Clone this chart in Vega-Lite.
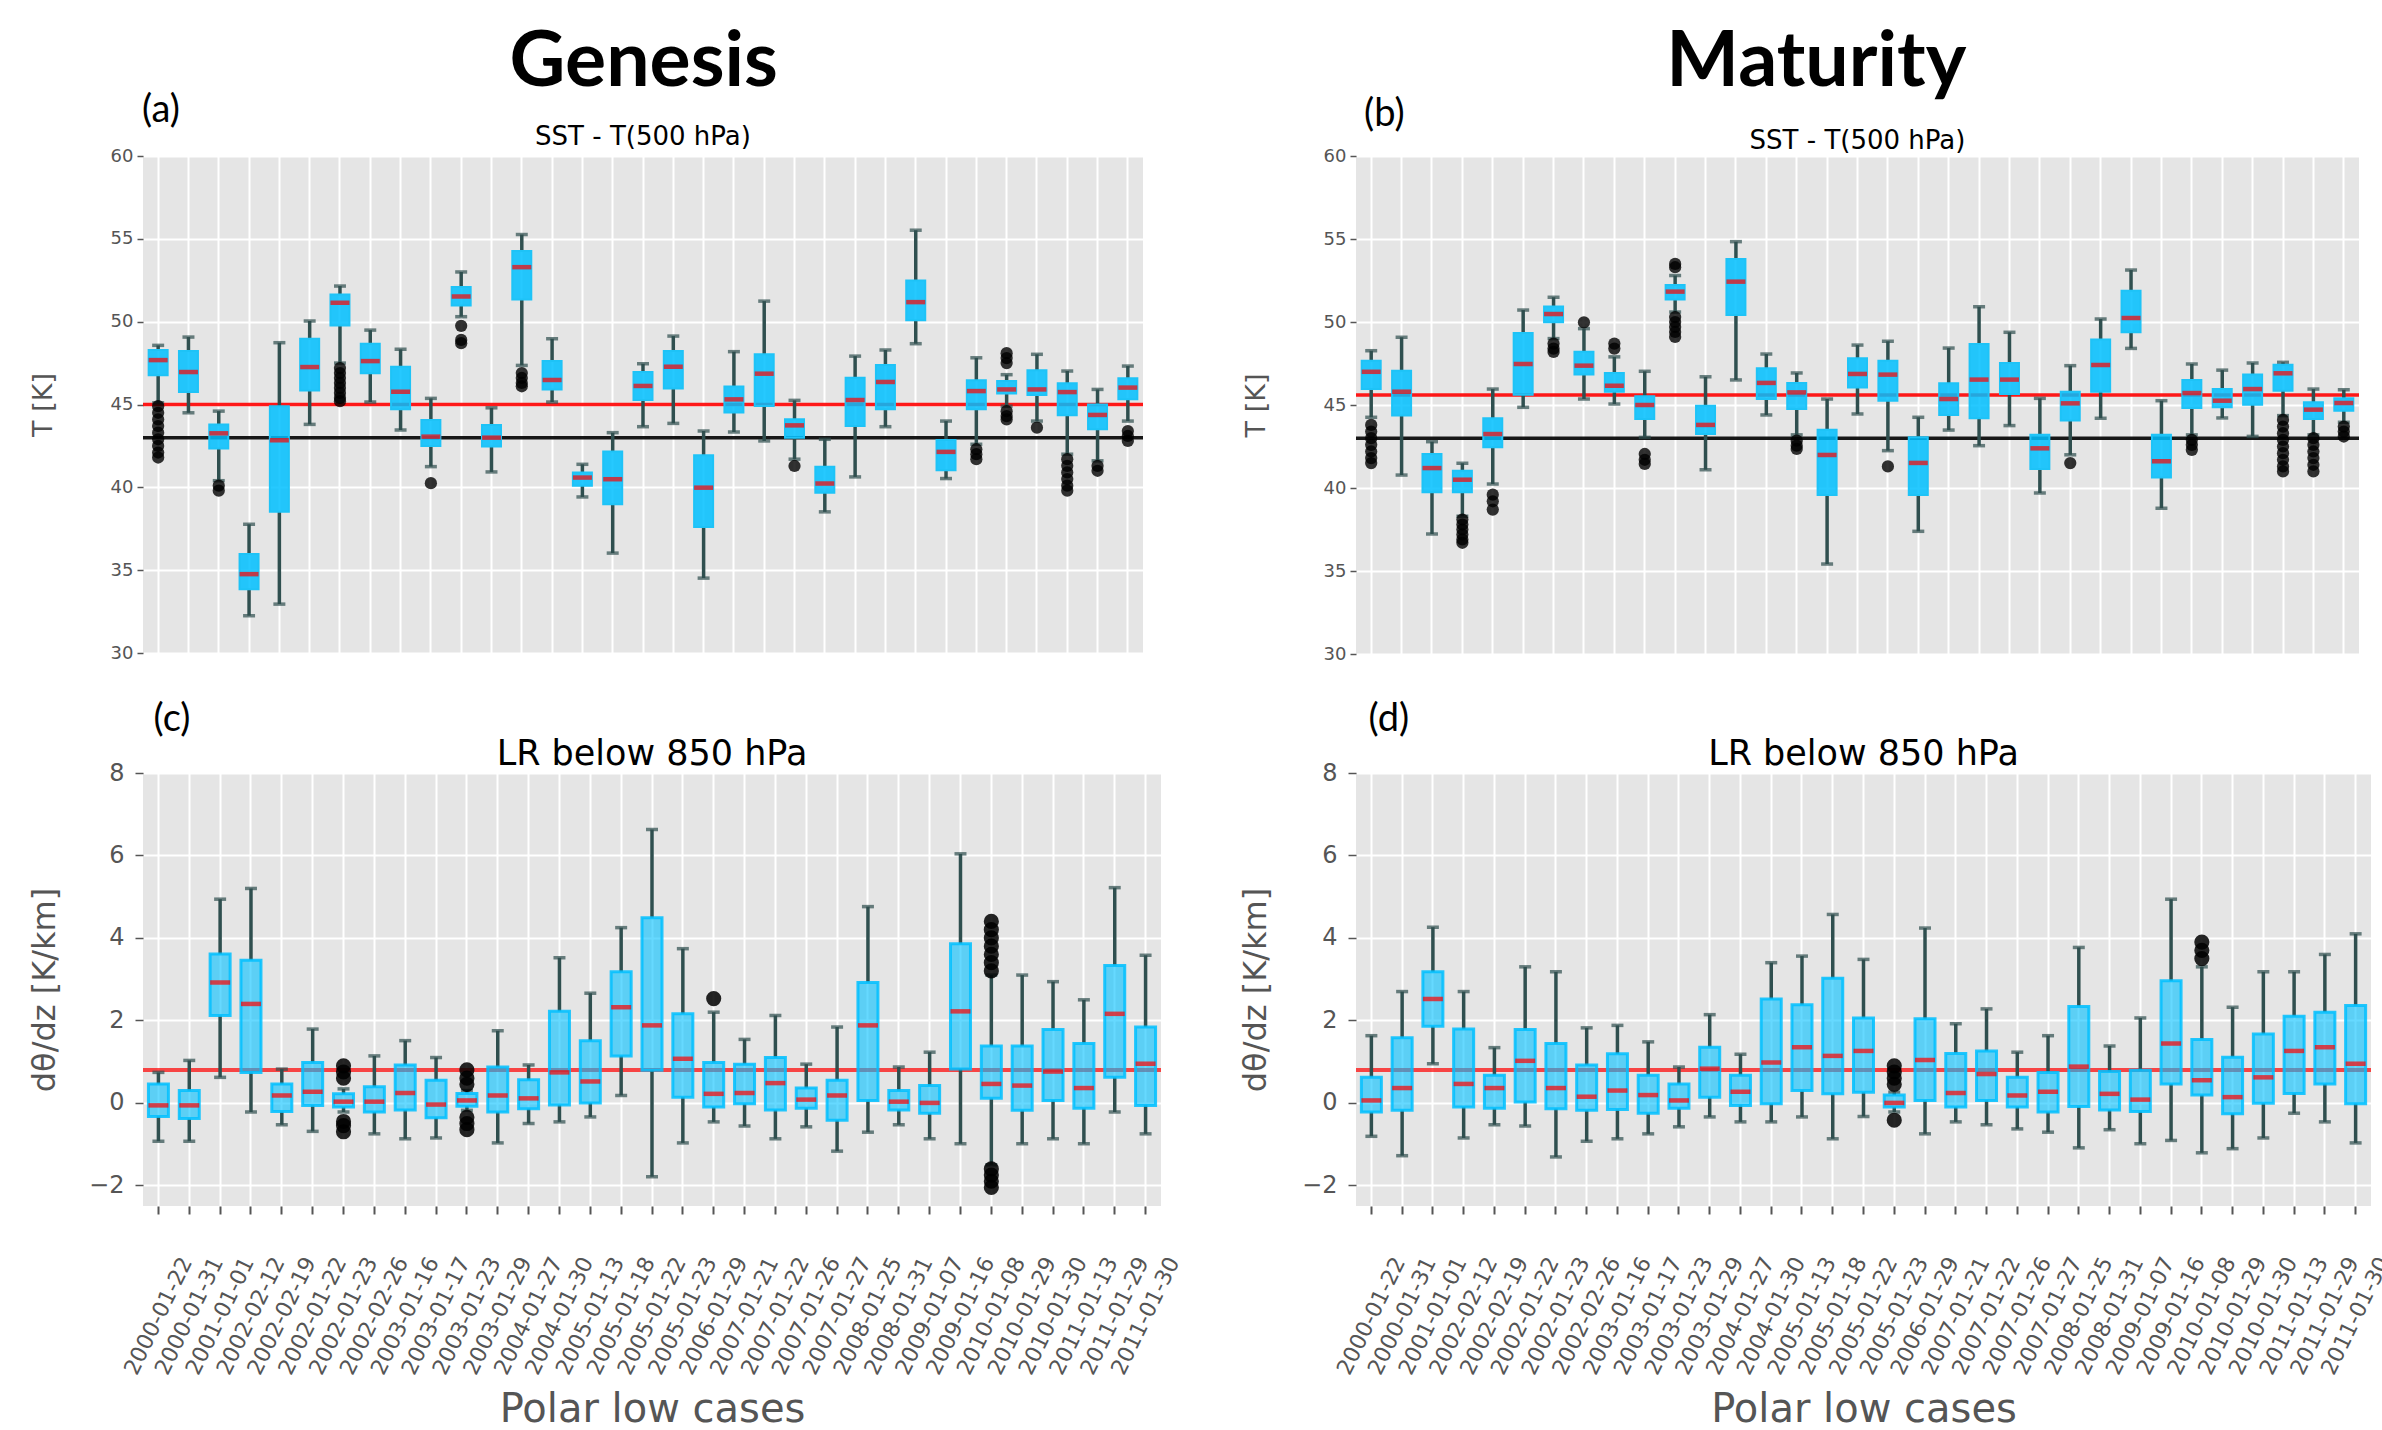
{
"$schema":"https://vega.github.io/schema/vega-lite/v6.json",
"background":"white",
"padding":{"left":28,"top":24,"right":0,"bottom":0},
"datasets":{
"refs":[
{"p":"a","k":"m","v":45.0},{"p":"a","k":"c","v":43.0},
{"p":"b","k":"m","v":45.6},{"p":"b","k":"c","v":43.0},
{"p":"c","k":"m","v":0.8},{"p":"d","k":"m","v":0.8}
],
"boxes":[
{"p":"a","c":"2000-01-22","lo":45.1,"q1":46.76,"md":47.68,"q3":48.29,"hi":48.57},
{"p":"a","c":"2000-01-31","lo":44.5,"q1":45.75,"md":46.96,"q3":48.23,"hi":49.07},
{"p":"a","c":"2001-01-01","lo":40.4,"q1":42.34,"md":43.26,"q3":43.8,"hi":44.6},
{"p":"a","c":"2002-02-12","lo":32.25,"q1":33.85,"md":34.76,"q3":35.97,"hi":37.77},
{"p":"a","c":"2002-02-19","lo":32.95,"q1":38.52,"md":42.84,"q3":44.9,"hi":48.73},
{"p":"a","c":"2002-01-22","lo":43.8,"q1":45.85,"md":47.26,"q3":48.97,"hi":50.04},
{"p":"a","c":"2002-01-23","lo":47.5,"q1":49.77,"md":51.14,"q3":51.64,"hi":52.15},
{"p":"a","c":"2002-02-26","lo":45.15,"q1":46.88,"md":47.62,"q3":48.67,"hi":49.49},
{"p":"a","c":"2003-01-16","lo":43.46,"q1":44.71,"md":45.77,"q3":47.28,"hi":48.33},
{"p":"a","c":"2003-01-17","lo":41.25,"q1":42.5,"md":43.06,"q3":44.07,"hi":45.37},
{"p":"a","c":"2003-01-23","lo":50.3,"q1":50.98,"md":51.52,"q3":52.09,"hi":53.0},
{"p":"a","c":"2003-01-29","lo":40.93,"q1":42.46,"md":43.0,"q3":43.76,"hi":44.8},
{"p":"a","c":"2004-01-27","lo":47.36,"q1":51.34,"md":53.29,"q3":54.26,"hi":55.26},
{"p":"a","c":"2004-01-30","lo":45.15,"q1":45.91,"md":46.48,"q3":47.62,"hi":48.97},
{"p":"a","c":"2005-01-13","lo":39.42,"q1":40.09,"md":40.59,"q3":40.89,"hi":41.39},
{"p":"a","c":"2005-01-18","lo":36.03,"q1":38.98,"md":40.49,"q3":42.16,"hi":43.3},
{"p":"a","c":"2005-01-22","lo":43.66,"q1":45.27,"md":46.12,"q3":46.96,"hi":47.46},
{"p":"a","c":"2005-01-23","lo":43.86,"q1":45.97,"md":47.28,"q3":48.23,"hi":49.13},
{"p":"a","c":"2006-01-29","lo":34.52,"q1":37.61,"md":39.98,"q3":41.93,"hi":43.4},
{"p":"a","c":"2007-01-21","lo":43.34,"q1":44.51,"md":45.31,"q3":46.08,"hi":48.19},
{"p":"a","c":"2007-01-22","lo":42.8,"q1":44.91,"md":46.86,"q3":48.03,"hi":51.24},
{"p":"a","c":"2007-01-26","lo":41.7,"q1":43.0,"md":43.74,"q3":44.11,"hi":45.25},
{"p":"a","c":"2007-01-27","lo":38.52,"q1":39.68,"md":40.23,"q3":41.25,"hi":42.9},
{"p":"a","c":"2008-01-25","lo":40.63,"q1":43.7,"md":45.27,"q3":46.62,"hi":47.92},
{"p":"a","c":"2008-01-31","lo":43.66,"q1":44.71,"md":46.36,"q3":47.38,"hi":48.29},
{"p":"a","c":"2009-01-07","lo":48.67,"q1":50.08,"md":51.18,"q3":52.49,"hi":55.52},
{"p":"a","c":"2009-01-16","lo":40.53,"q1":41.03,"md":42.14,"q3":42.86,"hi":44.0},
{"p":"a","c":"2010-01-08","lo":42.6,"q1":44.71,"md":45.81,"q3":46.46,"hi":47.82},
{"p":"a","c":"2010-01-29","lo":44.9,"q1":45.67,"md":45.91,"q3":46.42,"hi":46.8},
{"p":"a","c":"2010-01-30","lo":44.0,"q1":45.57,"md":45.91,"q3":47.06,"hi":48.03},
{"p":"a","c":"2011-01-13","lo":42.0,"q1":44.35,"md":45.75,"q3":46.28,"hi":47.02},
{"p":"a","c":"2011-01-29","lo":41.6,"q1":43.5,"md":44.37,"q3":45.0,"hi":45.91},
{"p":"a","c":"2011-01-30","lo":44.0,"q1":45.31,"md":46.02,"q3":46.58,"hi":47.32},
{"p":"b","c":"2000-01-22","lo":44.26,"q1":45.96,"md":47.0,"q3":47.67,"hi":48.27},
{"p":"b","c":"2000-01-31","lo":40.78,"q1":44.36,"md":45.8,"q3":47.07,"hi":49.08},
{"p":"b","c":"2001-01-01","lo":37.23,"q1":39.74,"md":41.2,"q3":42.05,"hi":42.79},
{"p":"b","c":"2002-02-12","lo":38.3,"q1":39.74,"md":40.5,"q3":41.04,"hi":41.49},
{"p":"b","c":"2002-02-19","lo":40.24,"q1":42.45,"md":43.25,"q3":44.2,"hi":45.96},
{"p":"b","c":"2002-01-22","lo":44.86,"q1":45.62,"md":47.47,"q3":49.34,"hi":50.72},
{"p":"b","c":"2002-01-23","lo":49.0,"q1":49.98,"md":50.48,"q3":50.94,"hi":51.49},
{"p":"b","c":"2002-02-26","lo":45.36,"q1":46.83,"md":47.37,"q3":48.21,"hi":49.6},
{"p":"b","c":"2003-01-16","lo":45.06,"q1":45.8,"md":46.16,"q3":46.93,"hi":47.9},
{"p":"b","c":"2003-01-17","lo":43.05,"q1":44.16,"md":45.0,"q3":45.52,"hi":47.03},
{"p":"b","c":"2003-01-23","lo":50.6,"q1":51.35,"md":51.83,"q3":52.23,"hi":52.8},
{"p":"b","c":"2003-01-29","lo":41.1,"q1":43.25,"md":43.8,"q3":44.96,"hi":46.7},
{"p":"b","c":"2004-01-27","lo":46.51,"q1":50.42,"md":52.43,"q3":53.8,"hi":54.84},
{"p":"b","c":"2004-01-30","lo":44.4,"q1":45.36,"md":46.33,"q3":47.21,"hi":48.07},
{"p":"b","c":"2005-01-13","lo":43.2,"q1":44.76,"md":45.76,"q3":46.33,"hi":46.93},
{"p":"b","c":"2005-01-18","lo":35.42,"q1":39.58,"md":41.99,"q3":43.51,"hi":45.36},
{"p":"b","c":"2005-01-22","lo":44.46,"q1":46.06,"md":46.87,"q3":47.81,"hi":48.61},
{"p":"b","c":"2005-01-23","lo":42.25,"q1":45.26,"md":46.83,"q3":47.67,"hi":48.84},
{"p":"b","c":"2006-01-29","lo":37.39,"q1":39.58,"md":41.51,"q3":43.05,"hi":44.26},
{"p":"b","c":"2007-01-21","lo":43.49,"q1":44.4,"md":45.36,"q3":46.31,"hi":48.43},
{"p":"b","c":"2007-01-22","lo":42.55,"q1":44.2,"md":46.53,"q3":48.67,"hi":50.92},
{"p":"b","c":"2007-01-26","lo":43.76,"q1":45.66,"md":46.53,"q3":47.53,"hi":49.38},
{"p":"b","c":"2007-01-27","lo":39.7,"q1":41.14,"md":42.39,"q3":43.21,"hi":45.4},
{"p":"b","c":"2008-01-25","lo":42.0,"q1":44.06,"md":45.1,"q3":45.8,"hi":47.37},
{"p":"b","c":"2008-01-31","lo":44.2,"q1":45.8,"md":47.41,"q3":48.94,"hi":50.18},
{"p":"b","c":"2009-01-07","lo":48.41,"q1":49.38,"md":50.24,"q3":51.89,"hi":53.13},
{"p":"b","c":"2009-01-16","lo":38.78,"q1":40.64,"md":41.61,"q3":43.21,"hi":45.26},
{"p":"b","c":"2010-01-08","lo":43.2,"q1":44.82,"md":45.72,"q3":46.51,"hi":47.47},
{"p":"b","c":"2010-01-29","lo":44.22,"q1":44.86,"md":45.26,"q3":45.96,"hi":47.1},
{"p":"b","c":"2010-01-30","lo":43.11,"q1":45.02,"md":45.96,"q3":46.83,"hi":47.53},
{"p":"b","c":"2011-01-13","lo":44.36,"q1":45.86,"md":46.91,"q3":47.43,"hi":47.57},
{"p":"b","c":"2011-01-29","lo":43.2,"q1":44.16,"md":44.72,"q3":45.16,"hi":45.96},
{"p":"b","c":"2011-01-30","lo":43.96,"q1":44.66,"md":45.12,"q3":45.4,"hi":45.92},
{"p":"c","c":"2000-01-22","lo":-0.93,"q1":-0.33,"md":-0.06,"q3":0.46,"hi":0.74},
{"p":"c","c":"2000-01-31","lo":-0.93,"q1":-0.38,"md":-0.06,"q3":0.3,"hi":1.03},
{"p":"c","c":"2001-01-01","lo":0.62,"q1":2.12,"md":2.92,"q3":3.61,"hi":4.94},
{"p":"c","c":"2002-02-12","lo":-0.22,"q1":0.74,"md":2.4,"q3":3.46,"hi":5.2},
{"p":"c","c":"2002-02-19","lo":-0.53,"q1":-0.21,"md":0.18,"q3":0.46,"hi":0.82},
{"p":"c","c":"2002-01-22","lo":-0.69,"q1":-0.06,"md":0.27,"q3":0.98,"hi":1.79},
{"p":"c","c":"2002-01-23","lo":-0.22,"q1":-0.1,"md":0.03,"q3":0.22,"hi":0.34},
{"p":"c","c":"2002-02-26","lo":-0.75,"q1":-0.22,"md":0.03,"q3":0.39,"hi":1.14},
{"p":"c","c":"2003-01-16","lo":-0.87,"q1":-0.17,"md":0.24,"q3":0.92,"hi":1.51},
{"p":"c","c":"2003-01-17","lo":-0.85,"q1":-0.36,"md":-0.04,"q3":0.55,"hi":1.1},
{"p":"c","c":"2003-01-23","lo":-0.18,"q1":-0.08,"md":0.06,"q3":0.23,"hi":0.3},
{"p":"c","c":"2003-01-29","lo":-0.97,"q1":-0.22,"md":0.18,"q3":0.87,"hi":1.75},
{"p":"c","c":"2004-01-27","lo":-0.5,"q1":-0.14,"md":0.11,"q3":0.56,"hi":0.92},
{"p":"c","c":"2004-01-30","lo":-0.46,"q1":-0.05,"md":0.74,"q3":2.22,"hi":3.52},
{"p":"c","c":"2005-01-13","lo":-0.34,"q1":0.0,"md":0.52,"q3":1.51,"hi":2.66},
{"p":"c","c":"2005-01-18","lo":0.18,"q1":1.14,"md":2.32,"q3":3.18,"hi":4.25},
{"p":"c","c":"2005-01-22","lo":-1.79,"q1":0.79,"md":1.88,"q3":4.49,"hi":6.63},
{"p":"c","c":"2005-01-23","lo":-0.97,"q1":0.14,"md":1.07,"q3":2.16,"hi":3.74},
{"p":"c","c":"2006-01-29","lo":-0.46,"q1":-0.1,"md":0.22,"q3":0.98,"hi":2.2},
{"p":"c","c":"2007-01-21","lo":-0.56,"q1":-0.02,"md":0.24,"q3":0.94,"hi":1.54},
{"p":"c","c":"2007-01-22","lo":-0.87,"q1":-0.17,"md":0.48,"q3":1.1,"hi":2.12},
{"p":"c","c":"2007-01-26","lo":-0.58,"q1":-0.13,"md":0.08,"q3":0.36,"hi":0.94},
{"p":"c","c":"2007-01-27","lo":-1.17,"q1":-0.42,"md":0.18,"q3":0.55,"hi":1.84},
{"p":"c","c":"2008-01-25","lo":-0.71,"q1":0.06,"md":1.88,"q3":2.92,"hi":4.76},
{"p":"c","c":"2008-01-31","lo":-0.53,"q1":-0.17,"md":0.03,"q3":0.3,"hi":0.87},
{"p":"c","c":"2009-01-07","lo":-0.87,"q1":-0.25,"md":0.0,"q3":0.42,"hi":1.23},
{"p":"c","c":"2009-01-16","lo":-0.99,"q1":0.82,"md":2.22,"q3":3.86,"hi":6.04},
{"p":"c","c":"2010-01-08","lo":-1.5,"q1":0.11,"md":0.46,"q3":1.38,"hi":3.1},
{"p":"c","c":"2010-01-29","lo":-0.99,"q1":-0.18,"md":0.42,"q3":1.38,"hi":3.1},
{"p":"c","c":"2010-01-30","lo":-0.87,"q1":0.06,"md":0.76,"q3":1.78,"hi":2.94},
{"p":"c","c":"2011-01-13","lo":-0.99,"q1":-0.13,"md":0.36,"q3":1.44,"hi":2.5},
{"p":"c","c":"2011-01-29","lo":-0.22,"q1":0.62,"md":2.16,"q3":3.33,"hi":5.22},
{"p":"c","c":"2011-01-30","lo":-0.75,"q1":-0.06,"md":0.95,"q3":1.84,"hi":3.58},
{"p":"d","c":"2000-01-22","lo":-0.81,"q1":-0.22,"md":0.06,"q3":0.62,"hi":1.63},
{"p":"d","c":"2000-01-31","lo":-1.28,"q1":-0.18,"md":0.36,"q3":1.58,"hi":2.7},
{"p":"d","c":"2001-01-01","lo":0.95,"q1":1.86,"md":2.52,"q3":3.18,"hi":4.26},
{"p":"d","c":"2002-02-12","lo":-0.85,"q1":-0.1,"md":0.46,"q3":1.79,"hi":2.7},
{"p":"d","c":"2002-02-19","lo":-0.53,"q1":-0.13,"md":0.36,"q3":0.67,"hi":1.34},
{"p":"d","c":"2002-01-22","lo":-0.56,"q1":0.02,"md":1.02,"q3":1.78,"hi":3.3},
{"p":"d","c":"2002-01-23","lo":-1.31,"q1":-0.14,"md":0.36,"q3":1.44,"hi":3.18},
{"p":"d","c":"2002-02-26","lo":-0.93,"q1":-0.18,"md":0.15,"q3":0.92,"hi":1.82},
{"p":"d","c":"2003-01-16","lo":-0.87,"q1":-0.16,"md":0.3,"q3":1.19,"hi":1.88},
{"p":"d","c":"2003-01-17","lo":-0.75,"q1":-0.25,"md":0.19,"q3":0.67,"hi":1.48},
{"p":"d","c":"2003-01-23","lo":-0.58,"q1":-0.13,"md":0.06,"q3":0.46,"hi":0.87},
{"p":"d","c":"2003-01-29","lo":-0.34,"q1":0.14,"md":0.83,"q3":1.35,"hi":2.14},
{"p":"d","c":"2004-01-27","lo":-0.46,"q1":-0.06,"md":0.27,"q3":0.67,"hi":1.18},
{"p":"d","c":"2004-01-30","lo":-0.46,"q1":-0.02,"md":0.98,"q3":2.52,"hi":3.4},
{"p":"d","c":"2005-01-13","lo":-0.34,"q1":0.3,"md":1.35,"q3":2.38,"hi":3.56},
{"p":"d","c":"2005-01-18","lo":-0.87,"q1":0.22,"md":1.14,"q3":3.02,"hi":4.57},
{"p":"d","c":"2005-01-22","lo":-0.33,"q1":0.26,"md":1.26,"q3":2.06,"hi":3.48},
{"p":"d","c":"2005-01-23","lo":-0.22,"q1":-0.1,"md":0.0,"q3":0.19,"hi":0.26},
{"p":"d","c":"2006-01-29","lo":-0.75,"q1":0.06,"md":1.04,"q3":2.04,"hi":4.24},
{"p":"d","c":"2007-01-21","lo":-0.46,"q1":-0.1,"md":0.24,"q3":1.2,"hi":1.92},
{"p":"d","c":"2007-01-22","lo":-0.53,"q1":0.06,"md":0.7,"q3":1.26,"hi":2.28},
{"p":"d","c":"2007-01-26","lo":-0.63,"q1":-0.1,"md":0.18,"q3":0.62,"hi":1.23},
{"p":"d","c":"2007-01-27","lo":-0.71,"q1":-0.22,"md":0.27,"q3":0.74,"hi":1.63},
{"p":"d","c":"2008-01-25","lo":-1.09,"q1":-0.09,"md":0.88,"q3":2.34,"hi":3.77},
{"p":"d","c":"2008-01-31","lo":-0.65,"q1":-0.17,"md":0.22,"q3":0.76,"hi":1.38},
{"p":"d","c":"2009-01-07","lo":-0.99,"q1":-0.21,"md":0.08,"q3":0.79,"hi":2.06},
{"p":"d","c":"2009-01-16","lo":-0.91,"q1":0.46,"md":1.44,"q3":2.96,"hi":4.94},
{"p":"d","c":"2010-01-08","lo":-1.21,"q1":0.19,"md":0.55,"q3":1.54,"hi":3.3},
{"p":"d","c":"2010-01-29","lo":-1.11,"q1":-0.26,"md":0.14,"q3":1.11,"hi":2.32},
{"p":"d","c":"2010-01-30","lo":-0.85,"q1":-0.01,"md":0.62,"q3":1.67,"hi":3.18},
{"p":"d","c":"2011-01-13","lo":-0.25,"q1":0.23,"md":1.26,"q3":2.1,"hi":3.18},
{"p":"d","c":"2011-01-29","lo":-0.46,"q1":0.46,"md":1.35,"q3":2.2,"hi":3.6},
{"p":"d","c":"2011-01-30","lo":-0.97,"q1":-0.02,"md":0.95,"q3":2.36,"hi":4.1}
],
"outliers":[
{"p":"a","c":"2000-01-22","v":44.9},{"p":"a","c":"2000-01-22","v":44.5},{"p":"a","c":"2000-01-22","v":44.1},{"p":"a","c":"2000-01-22","v":43.7},{"p":"a","c":"2000-01-22","v":43.3},{"p":"a","c":"2000-01-22","v":42.9},{"p":"a","c":"2000-01-22","v":42.5},{"p":"a","c":"2000-01-22","v":42.1},{"p":"a","c":"2000-01-22","v":41.8},
{"p":"a","c":"2001-01-01","v":40.1},{"p":"a","c":"2001-01-01","v":39.8},
{"p":"a","c":"2002-01-23","v":47.2},{"p":"a","c":"2002-01-23","v":46.9},{"p":"a","c":"2002-01-23","v":46.6},{"p":"a","c":"2002-01-23","v":46.3},{"p":"a","c":"2002-01-23","v":46.0},{"p":"a","c":"2002-01-23","v":45.7},{"p":"a","c":"2002-01-23","v":45.4},{"p":"a","c":"2002-01-23","v":45.2},
{"p":"a","c":"2003-01-17","v":40.25},
{"p":"a","c":"2003-01-23","v":49.75},{"p":"a","c":"2003-01-23","v":48.9},{"p":"a","c":"2003-01-23","v":48.7},
{"p":"a","c":"2004-01-27","v":46.9},{"p":"a","c":"2004-01-27","v":46.6},{"p":"a","c":"2004-01-27","v":46.3},{"p":"a","c":"2004-01-27","v":46.1},
{"p":"a","c":"2007-01-26","v":41.29},
{"p":"a","c":"2010-01-08","v":42.3},{"p":"a","c":"2010-01-08","v":42.0},{"p":"a","c":"2010-01-08","v":41.7},
{"p":"a","c":"2010-01-29","v":47.5},{"p":"a","c":"2010-01-29","v":47.8},{"p":"a","c":"2010-01-29","v":48.1},{"p":"a","c":"2010-01-29","v":44.6},{"p":"a","c":"2010-01-29","v":44.3},{"p":"a","c":"2010-01-29","v":44.1},
{"p":"a","c":"2010-01-30","v":43.6},
{"p":"a","c":"2011-01-13","v":41.7},{"p":"a","c":"2011-01-13","v":41.3},{"p":"a","c":"2011-01-13","v":40.9},{"p":"a","c":"2011-01-13","v":40.5},{"p":"a","c":"2011-01-13","v":40.1},{"p":"a","c":"2011-01-13","v":39.8},
{"p":"a","c":"2011-01-29","v":41.3},{"p":"a","c":"2011-01-29","v":41.0},
{"p":"a","c":"2011-01-30","v":43.4},{"p":"a","c":"2011-01-30","v":43.1},{"p":"a","c":"2011-01-30","v":42.8},
{"p":"b","c":"2000-01-22","v":43.8},{"p":"b","c":"2000-01-22","v":43.4},{"p":"b","c":"2000-01-22","v":43.0},{"p":"b","c":"2000-01-22","v":42.6},{"p":"b","c":"2000-01-22","v":42.2},{"p":"b","c":"2000-01-22","v":41.8},{"p":"b","c":"2000-01-22","v":41.5},
{"p":"b","c":"2002-02-12","v":38.1},{"p":"b","c":"2002-02-12","v":37.8},{"p":"b","c":"2002-02-12","v":37.5},{"p":"b","c":"2002-02-12","v":37.2},{"p":"b","c":"2002-02-12","v":36.9},{"p":"b","c":"2002-02-12","v":36.7},
{"p":"b","c":"2002-02-19","v":39.6},{"p":"b","c":"2002-02-19","v":39.2},{"p":"b","c":"2002-02-19","v":38.7},
{"p":"b","c":"2002-01-23","v":48.7},{"p":"b","c":"2002-01-23","v":48.4},{"p":"b","c":"2002-01-23","v":48.2},
{"p":"b","c":"2002-02-26","v":49.98},
{"p":"b","c":"2003-01-16","v":48.4},{"p":"b","c":"2003-01-16","v":48.7},
{"p":"b","c":"2003-01-17","v":42.05},{"p":"b","c":"2003-01-17","v":41.7},{"p":"b","c":"2003-01-17","v":41.45},
{"p":"b","c":"2003-01-23","v":53.5},{"p":"b","c":"2003-01-23","v":53.3},{"p":"b","c":"2003-01-23","v":50.3},{"p":"b","c":"2003-01-23","v":50.0},{"p":"b","c":"2003-01-23","v":49.7},{"p":"b","c":"2003-01-23","v":49.4},{"p":"b","c":"2003-01-23","v":49.1},
{"p":"b","c":"2005-01-13","v":42.85},{"p":"b","c":"2005-01-13","v":42.55},{"p":"b","c":"2005-01-13","v":42.35},
{"p":"b","c":"2005-01-23","v":41.3},
{"p":"b","c":"2008-01-25","v":41.5},
{"p":"b","c":"2010-01-08","v":42.9},{"p":"b","c":"2010-01-08","v":42.6},{"p":"b","c":"2010-01-08","v":42.3},
{"p":"b","c":"2011-01-13","v":44.1},{"p":"b","c":"2011-01-13","v":43.7},{"p":"b","c":"2011-01-13","v":43.3},{"p":"b","c":"2011-01-13","v":42.9},{"p":"b","c":"2011-01-13","v":42.5},{"p":"b","c":"2011-01-13","v":42.1},{"p":"b","c":"2011-01-13","v":41.7},{"p":"b","c":"2011-01-13","v":41.3},{"p":"b","c":"2011-01-13","v":41.0},
{"p":"b","c":"2011-01-29","v":43.0},{"p":"b","c":"2011-01-29","v":42.6},{"p":"b","c":"2011-01-29","v":42.2},{"p":"b","c":"2011-01-29","v":41.8},{"p":"b","c":"2011-01-29","v":41.4},{"p":"b","c":"2011-01-29","v":41.0},
{"p":"b","c":"2011-01-30","v":43.7},{"p":"b","c":"2011-01-30","v":43.4},{"p":"b","c":"2011-01-30","v":43.1},
{"p":"c","c":"2002-01-23","v":0.9},{"p":"c","c":"2002-01-23","v":0.75},{"p":"c","c":"2002-01-23","v":0.6},{"p":"c","c":"2002-01-23","v":-0.45},{"p":"c","c":"2002-01-23","v":-0.55},{"p":"c","c":"2002-01-23","v":-0.7},
{"p":"c","c":"2003-01-23","v":0.8},{"p":"c","c":"2003-01-23","v":0.6},{"p":"c","c":"2003-01-23","v":0.45},{"p":"c","c":"2003-01-23","v":-0.35},{"p":"c","c":"2003-01-23","v":-0.5},{"p":"c","c":"2003-01-23","v":-0.65},
{"p":"c","c":"2006-01-29","v":2.53},
{"p":"c","c":"2010-01-08","v":4.4},{"p":"c","c":"2010-01-08","v":4.2},{"p":"c","c":"2010-01-08","v":4.0},{"p":"c","c":"2010-01-08","v":3.8},{"p":"c","c":"2010-01-08","v":3.6},{"p":"c","c":"2010-01-08","v":3.4},{"p":"c","c":"2010-01-08","v":3.2},{"p":"c","c":"2010-01-08","v":-1.6},{"p":"c","c":"2010-01-08","v":-1.75},{"p":"c","c":"2010-01-08","v":-1.9},{"p":"c","c":"2010-01-08","v":-2.05},
{"p":"d","c":"2005-01-23","v":0.9},{"p":"d","c":"2005-01-23","v":0.75},{"p":"d","c":"2005-01-23","v":0.6},{"p":"d","c":"2005-01-23","v":0.45},{"p":"d","c":"2005-01-23","v":-0.42},
{"p":"d","c":"2010-01-08","v":3.9},{"p":"d","c":"2010-01-08","v":3.7},{"p":"d","c":"2010-01-08","v":3.5}
]
},
"spacing":56,
"hconcat":[
{"title":{"text":"Genesis","font":"Lato","fontSize":77,"fontWeight":"bold","color":"#000000","anchor":"middle","dx":38,"offset":-10},
 "spacing":39,
 "vconcat":[
  {"title":{"text":"(a)","font":"Lato","fontSize":38,"fontWeight":"normal","color":"#000000","anchor":"start","dx":113,"offset":-6},
   "vconcat":[
    {"width":1000,"height":497,
     "title":{"text":"SST -  T(500 hPa)","font":"DejaVu Sans","fontSize":26,"fontWeight":"normal","color":"#000000","anchor":"middle","frame":"group","offset":-3},
     "layer":[
      {"data":{"name":"refs"},"transform":[{"filter":"datum.p==='a'"}],"mark":{"type":"rule","strokeWidth":3.5,"opacity":0.9},
       "encoding":{"y":{"field":"v","type":"quantitative","scale":{"domain":[30,60],"nice":false,"zero":false},"axis":{"values":[30,35,40,45,50,55,60],"grid":true,"gridColor":"#FFFFFF","gridWidth":2,"domain":false,"tickSize":6,"tickColor":"#555555","tickWidth":1.5,"labelFontSize":18,"labelColor":"#555555","labelPadding":4,"title":"T [K]","titleFontSize":27,"titleColor":"#555555","titlePadding":53}},
        "color":{"field":"k","type":"nominal","scale":{"domain":["m","c"],"range":["#FF0000","#000000"]},"legend":null}}},
      {"data":{"name":"boxes"},"transform":[{"filter":"datum.p==='a'"}],"mark":{"type":"rule","color":"#2F4F4F","strokeWidth":3.5},
       "encoding":{"x":{"field":"c","type":"nominal","scale":{"type":"band","domain":["2000-01-22","2000-01-31","2001-01-01","2002-02-12","2002-02-19","2002-01-22","2002-01-23","2002-02-26","2003-01-16","2003-01-17","2003-01-23","2003-01-29","2004-01-27","2004-01-30","2005-01-13","2005-01-18","2005-01-22","2005-01-23","2006-01-29","2007-01-21","2007-01-22","2007-01-26","2007-01-27","2008-01-25","2008-01-31","2009-01-07","2009-01-16","2010-01-08","2010-01-29","2010-01-30","2011-01-13","2011-01-29","2011-01-30"],"paddingInner":0,"paddingOuter":0},"axis":{"labels":false,"ticks":false,"domain":false,"grid":true,"gridColor":"#FFFFFF","gridWidth":2,"title":null}},
        "y":{"field":"lo","type":"quantitative","title":"T [K]","scale":{"domain":[30,60],"nice":false,"zero":false}},"y2":{"field":"q1"}}},
      {"data":{"name":"boxes"},"transform":[{"filter":"datum.p==='a'"}],"mark":{"type":"rule","color":"#2F4F4F","strokeWidth":3.5},
       "encoding":{"x":{"field":"c","type":"nominal","scale":{"type":"band","paddingInner":0,"paddingOuter":0}},
        "y":{"field":"q3","type":"quantitative","title":"T [K]","scale":{"domain":[30,60],"nice":false,"zero":false}},"y2":{"field":"hi"}}},
      {"data":{"name":"boxes"},"transform":[{"filter":"datum.p==='a'"}],"mark":{"type":"tick","color":"#2F4F4F","size":12,"thickness":3.5},
       "encoding":{"x":{"field":"c","type":"nominal","scale":{"type":"band","paddingInner":0,"paddingOuter":0}},
        "y":{"field":"lo","type":"quantitative","title":"T [K]","scale":{"domain":[30,60],"nice":false,"zero":false}}}},
      {"data":{"name":"boxes"},"transform":[{"filter":"datum.p==='a'"}],"mark":{"type":"tick","color":"#2F4F4F","size":12,"thickness":3.5},
       "encoding":{"x":{"field":"c","type":"nominal","scale":{"type":"band","paddingInner":0,"paddingOuter":0}},
        "y":{"field":"hi","type":"quantitative","title":"T [K]","scale":{"domain":[30,60],"nice":false,"zero":false}}}},
      {"data":{"name":"boxes"},"transform":[{"filter":"datum.p==='a'"}],"mark":{"type":"bar","size":19,"fill":"#00BFFF","fillOpacity":0.85,"stroke":"#1EC3F7","strokeWidth":2},
       "encoding":{"x":{"field":"c","type":"nominal","scale":{"type":"band","paddingInner":0,"paddingOuter":0}},
        "y":{"field":"q1","type":"quantitative","title":"T [K]","scale":{"domain":[30,60],"nice":false,"zero":false}},"y2":{"field":"q3"}}},
      {"data":{"name":"boxes"},"transform":[{"filter":"datum.p==='a'"}],"mark":{"type":"tick","color":"#FF0000","size":19,"thickness":4.5},
       "encoding":{"x":{"field":"c","type":"nominal","scale":{"type":"band","paddingInner":0,"paddingOuter":0}},
        "y":{"field":"md","type":"quantitative","title":"T [K]","scale":{"domain":[30,60],"nice":false,"zero":false}}}},
      {"data":{"name":"outliers"},"transform":[{"filter":"datum.p==='a'"}],"mark":{"type":"point","filled":true,"color":"#000000","opacity":0.8,"size":150},
       "encoding":{"x":{"field":"c","type":"nominal","scale":{"type":"band","paddingInner":0,"paddingOuter":0}},
        "y":{"field":"v","type":"quantitative","title":"T [K]","scale":{"domain":[30,60],"nice":false,"zero":false}}}}
     ]}
   ]},
  {"title":{"text":"(c)","font":"Lato","fontSize":38,"fontWeight":"normal","color":"#000000","anchor":"start","dx":125,"offset":-2},
   "vconcat":[
    {"width":1018,"height":433,
     "title":{"text":"LR below 850 hPa","font":"DejaVu Sans","fontSize":35,"fontWeight":"normal","color":"#000000","anchor":"middle","frame":"group","offset":-11},
     "layer":[
      {"data":{"name":"refs"},"transform":[{"filter":"datum.p==='c'"}],"mark":{"type":"rule","strokeWidth":4,"opacity":0.7},
       "encoding":{"y":{"field":"v","type":"quantitative","scale":{"domain":[-2.5,8],"nice":false,"zero":false},"axis":{"values":[-2,0,2,4,6,8],"grid":true,"gridColor":"#FFFFFF","gridWidth":2,"domain":false,"tickSize":8,"tickColor":"#555555","tickWidth":1.5,"labelFontSize":24,"labelColor":"#555555","labelPadding":11,"title":"dθ/dz [K/km]","titleFontSize":32,"titleColor":"#555555","titlePadding":27}},
        "color":{"field":"k","type":"nominal","scale":{"domain":["m","c"],"range":["#FF0000","#000000"]},"legend":null}}},
      {"data":{"name":"boxes"},"transform":[{"filter":"datum.p==='c'"}],"mark":{"type":"rule","color":"#2F4F4F","strokeWidth":3.5},
       "encoding":{"x":{"field":"c","type":"nominal","scale":{"type":"band","domain":["2000-01-22","2000-01-31","2001-01-01","2002-02-12","2002-02-19","2002-01-22","2002-01-23","2002-02-26","2003-01-16","2003-01-17","2003-01-23","2003-01-29","2004-01-27","2004-01-30","2005-01-13","2005-01-18","2005-01-22","2005-01-23","2006-01-29","2007-01-21","2007-01-22","2007-01-26","2007-01-27","2008-01-25","2008-01-31","2009-01-07","2009-01-16","2010-01-08","2010-01-29","2010-01-30","2011-01-13","2011-01-29","2011-01-30"],"paddingInner":0,"paddingOuter":0},"axis":{"labelAngle":-64,"labelAlign":"right","labelBaseline":"middle","labelFontSize":22,"labelColor":"#555555","labelOffset":28,"labelPadding":44,"labelOverlap":false,"labelBound":false,"labelFlush":false,"ticks":true,"tickSize":8,"tickColor":"#555555","tickWidth":2,"domain":false,"grid":true,"gridColor":"#FFFFFF","gridWidth":2,"title":"Polar low cases","titleFontSize":40,"titleColor":"#555555","titlePadding":12}},
        "y":{"field":"lo","type":"quantitative","title":"dθ/dz [K/km]","scale":{"domain":[-2.5,8],"nice":false,"zero":false}},"y2":{"field":"q1"}}},
      {"data":{"name":"boxes"},"transform":[{"filter":"datum.p==='c'"}],"mark":{"type":"rule","color":"#2F4F4F","strokeWidth":3.5},
       "encoding":{"x":{"field":"c","type":"nominal","scale":{"type":"band","paddingInner":0,"paddingOuter":0}},
        "y":{"field":"q3","type":"quantitative","title":"dθ/dz [K/km]","scale":{"domain":[-2.5,8],"nice":false,"zero":false}},"y2":{"field":"hi"}}},
      {"data":{"name":"boxes"},"transform":[{"filter":"datum.p==='c'"}],"mark":{"type":"tick","color":"#2F4F4F","size":12,"thickness":3.5},
       "encoding":{"x":{"field":"c","type":"nominal","scale":{"type":"band","paddingInner":0,"paddingOuter":0}},
        "y":{"field":"lo","type":"quantitative","title":"dθ/dz [K/km]","scale":{"domain":[-2.5,8],"nice":false,"zero":false}}}},
      {"data":{"name":"boxes"},"transform":[{"filter":"datum.p==='c'"}],"mark":{"type":"tick","color":"#2F4F4F","size":12,"thickness":3.5},
       "encoding":{"x":{"field":"c","type":"nominal","scale":{"type":"band","paddingInner":0,"paddingOuter":0}},
        "y":{"field":"hi","type":"quantitative","title":"dθ/dz [K/km]","scale":{"domain":[-2.5,8],"nice":false,"zero":false}}}},
      {"data":{"name":"boxes"},"transform":[{"filter":"datum.p==='c'"}],"mark":{"type":"bar","size":20,"fill":"#00BFFF","fillOpacity":0.6,"stroke":"#00BFFF","strokeOpacity":0.85,"strokeWidth":3},
       "encoding":{"x":{"field":"c","type":"nominal","scale":{"type":"band","paddingInner":0,"paddingOuter":0}},
        "y":{"field":"q1","type":"quantitative","title":"dθ/dz [K/km]","scale":{"domain":[-2.5,8],"nice":false,"zero":false}},"y2":{"field":"q3"}}},
      {"data":{"name":"boxes"},"transform":[{"filter":"datum.p==='c'"}],"mark":{"type":"tick","color":"#FF0000","size":20,"thickness":4.5},
       "encoding":{"x":{"field":"c","type":"nominal","scale":{"type":"band","paddingInner":0,"paddingOuter":0}},
        "y":{"field":"md","type":"quantitative","title":"dθ/dz [K/km]","scale":{"domain":[-2.5,8],"nice":false,"zero":false}}}},
      {"data":{"name":"outliers"},"transform":[{"filter":"datum.p==='c'"}],"mark":{"type":"point","filled":true,"color":"#000000","opacity":0.85,"size":230},
       "encoding":{"x":{"field":"c","type":"nominal","scale":{"type":"band","paddingInner":0,"paddingOuter":0}},
        "y":{"field":"v","type":"quantitative","title":"dθ/dz [K/km]","scale":{"domain":[-2.5,8],"nice":false,"zero":false}}}}
     ]}
   ]}
 ]},
{"title":{"text":"Maturity","font":"Lato","fontSize":77,"fontWeight":"bold","color":"#000000","anchor":"middle","dx":0,"offset":-6},
 "spacing":38,
 "vconcat":[
  {"title":{"text":"(b)","font":"Lato","fontSize":38,"fontWeight":"normal","color":"#000000","anchor":"start","dx":122,"offset":-6},
   "vconcat":[
    {"width":1003,"height":498,
     "title":{"text":"SST - T(500 hPa)","font":"DejaVu Sans","fontSize":26,"fontWeight":"normal","color":"#000000","anchor":"middle","frame":"group","offset":-7},
     "layer":[
      {"data":{"name":"refs"},"transform":[{"filter":"datum.p==='b'"}],"mark":{"type":"rule","strokeWidth":3.5,"opacity":0.9},
       "encoding":{"y":{"field":"v","type":"quantitative","scale":{"domain":[30,60],"nice":false,"zero":false},"axis":{"values":[30,35,40,45,50,55,60],"grid":true,"gridColor":"#FFFFFF","gridWidth":2,"domain":false,"tickSize":6,"tickColor":"#555555","tickWidth":1.5,"labelFontSize":18,"labelColor":"#555555","labelPadding":4,"title":"T [K]","titleFontSize":27,"titleColor":"#555555","titlePadding":53}},
        "color":{"field":"k","type":"nominal","scale":{"domain":["m","c"],"range":["#FF0000","#000000"]},"legend":null}}},
      {"data":{"name":"boxes"},"transform":[{"filter":"datum.p==='b'"}],"mark":{"type":"rule","color":"#2F4F4F","strokeWidth":3.5},
       "encoding":{"x":{"field":"c","type":"nominal","scale":{"type":"band","domain":["2000-01-22","2000-01-31","2001-01-01","2002-02-12","2002-02-19","2002-01-22","2002-01-23","2002-02-26","2003-01-16","2003-01-17","2003-01-23","2003-01-29","2004-01-27","2004-01-30","2005-01-13","2005-01-18","2005-01-22","2005-01-23","2006-01-29","2007-01-21","2007-01-22","2007-01-26","2007-01-27","2008-01-25","2008-01-31","2009-01-07","2009-01-16","2010-01-08","2010-01-29","2010-01-30","2011-01-13","2011-01-29","2011-01-30"],"paddingInner":0,"paddingOuter":0},"axis":{"labels":false,"ticks":false,"domain":false,"grid":true,"gridColor":"#FFFFFF","gridWidth":2,"title":null}},
        "y":{"field":"lo","type":"quantitative","title":"T [K]","scale":{"domain":[30,60],"nice":false,"zero":false}},"y2":{"field":"q1"}}},
      {"data":{"name":"boxes"},"transform":[{"filter":"datum.p==='b'"}],"mark":{"type":"rule","color":"#2F4F4F","strokeWidth":3.5},
       "encoding":{"x":{"field":"c","type":"nominal","scale":{"type":"band","paddingInner":0,"paddingOuter":0}},
        "y":{"field":"q3","type":"quantitative","title":"T [K]","scale":{"domain":[30,60],"nice":false,"zero":false}},"y2":{"field":"hi"}}},
      {"data":{"name":"boxes"},"transform":[{"filter":"datum.p==='b'"}],"mark":{"type":"tick","color":"#2F4F4F","size":12,"thickness":3.5},
       "encoding":{"x":{"field":"c","type":"nominal","scale":{"type":"band","paddingInner":0,"paddingOuter":0}},
        "y":{"field":"lo","type":"quantitative","title":"T [K]","scale":{"domain":[30,60],"nice":false,"zero":false}}}},
      {"data":{"name":"boxes"},"transform":[{"filter":"datum.p==='b'"}],"mark":{"type":"tick","color":"#2F4F4F","size":12,"thickness":3.5},
       "encoding":{"x":{"field":"c","type":"nominal","scale":{"type":"band","paddingInner":0,"paddingOuter":0}},
        "y":{"field":"hi","type":"quantitative","title":"T [K]","scale":{"domain":[30,60],"nice":false,"zero":false}}}},
      {"data":{"name":"boxes"},"transform":[{"filter":"datum.p==='b'"}],"mark":{"type":"bar","size":19,"fill":"#00BFFF","fillOpacity":0.85,"stroke":"#1EC3F7","strokeWidth":2},
       "encoding":{"x":{"field":"c","type":"nominal","scale":{"type":"band","paddingInner":0,"paddingOuter":0}},
        "y":{"field":"q1","type":"quantitative","title":"T [K]","scale":{"domain":[30,60],"nice":false,"zero":false}},"y2":{"field":"q3"}}},
      {"data":{"name":"boxes"},"transform":[{"filter":"datum.p==='b'"}],"mark":{"type":"tick","color":"#FF0000","size":19,"thickness":4.5},
       "encoding":{"x":{"field":"c","type":"nominal","scale":{"type":"band","paddingInner":0,"paddingOuter":0}},
        "y":{"field":"md","type":"quantitative","title":"T [K]","scale":{"domain":[30,60],"nice":false,"zero":false}}}},
      {"data":{"name":"outliers"},"transform":[{"filter":"datum.p==='b'"}],"mark":{"type":"point","filled":true,"color":"#000000","opacity":0.8,"size":150},
       "encoding":{"x":{"field":"c","type":"nominal","scale":{"type":"band","paddingInner":0,"paddingOuter":0}},
        "y":{"field":"v","type":"quantitative","title":"T [K]","scale":{"domain":[30,60],"nice":false,"zero":false}}}}
     ]}
   ]},
  {"title":{"text":"(d)","font":"Lato","fontSize":38,"fontWeight":"normal","color":"#000000","anchor":"start","dx":129,"offset":-2},
   "vconcat":[
    {"width":1015,"height":433,
     "title":{"text":"LR below 850 hPa","font":"DejaVu Sans","fontSize":35,"fontWeight":"normal","color":"#000000","anchor":"middle","frame":"group","offset":-11},
     "layer":[
      {"data":{"name":"refs"},"transform":[{"filter":"datum.p==='d'"}],"mark":{"type":"rule","strokeWidth":4,"opacity":0.7},
       "encoding":{"y":{"field":"v","type":"quantitative","scale":{"domain":[-2.5,8],"nice":false,"zero":false},"axis":{"values":[-2,0,2,4,6,8],"grid":true,"gridColor":"#FFFFFF","gridWidth":2,"domain":false,"tickSize":8,"tickColor":"#555555","tickWidth":1.5,"labelFontSize":24,"labelColor":"#555555","labelPadding":11,"title":"dθ/dz [K/km]","titleFontSize":32,"titleColor":"#555555","titlePadding":29}},
        "color":{"field":"k","type":"nominal","scale":{"domain":["m","c"],"range":["#FF0000","#000000"]},"legend":null}}},
      {"data":{"name":"boxes"},"transform":[{"filter":"datum.p==='d'"}],"mark":{"type":"rule","color":"#2F4F4F","strokeWidth":3.5},
       "encoding":{"x":{"field":"c","type":"nominal","scale":{"type":"band","domain":["2000-01-22","2000-01-31","2001-01-01","2002-02-12","2002-02-19","2002-01-22","2002-01-23","2002-02-26","2003-01-16","2003-01-17","2003-01-23","2003-01-29","2004-01-27","2004-01-30","2005-01-13","2005-01-18","2005-01-22","2005-01-23","2006-01-29","2007-01-21","2007-01-22","2007-01-26","2007-01-27","2008-01-25","2008-01-31","2009-01-07","2009-01-16","2010-01-08","2010-01-29","2010-01-30","2011-01-13","2011-01-29","2011-01-30"],"paddingInner":0,"paddingOuter":0},"axis":{"labelAngle":-64,"labelAlign":"right","labelBaseline":"middle","labelFontSize":22,"labelColor":"#555555","labelOffset":28,"labelPadding":44,"labelOverlap":false,"labelBound":false,"labelFlush":false,"ticks":true,"tickSize":8,"tickColor":"#555555","tickWidth":2,"domain":false,"grid":true,"gridColor":"#FFFFFF","gridWidth":2,"title":"Polar low cases","titleFontSize":40,"titleColor":"#555555","titlePadding":12}},
        "y":{"field":"lo","type":"quantitative","title":"dθ/dz [K/km]","scale":{"domain":[-2.5,8],"nice":false,"zero":false}},"y2":{"field":"q1"}}},
      {"data":{"name":"boxes"},"transform":[{"filter":"datum.p==='d'"}],"mark":{"type":"rule","color":"#2F4F4F","strokeWidth":3.5},
       "encoding":{"x":{"field":"c","type":"nominal","scale":{"type":"band","paddingInner":0,"paddingOuter":0}},
        "y":{"field":"q3","type":"quantitative","title":"dθ/dz [K/km]","scale":{"domain":[-2.5,8],"nice":false,"zero":false}},"y2":{"field":"hi"}}},
      {"data":{"name":"boxes"},"transform":[{"filter":"datum.p==='d'"}],"mark":{"type":"tick","color":"#2F4F4F","size":12,"thickness":3.5},
       "encoding":{"x":{"field":"c","type":"nominal","scale":{"type":"band","paddingInner":0,"paddingOuter":0}},
        "y":{"field":"lo","type":"quantitative","title":"dθ/dz [K/km]","scale":{"domain":[-2.5,8],"nice":false,"zero":false}}}},
      {"data":{"name":"boxes"},"transform":[{"filter":"datum.p==='d'"}],"mark":{"type":"tick","color":"#2F4F4F","size":12,"thickness":3.5},
       "encoding":{"x":{"field":"c","type":"nominal","scale":{"type":"band","paddingInner":0,"paddingOuter":0}},
        "y":{"field":"hi","type":"quantitative","title":"dθ/dz [K/km]","scale":{"domain":[-2.5,8],"nice":false,"zero":false}}}},
      {"data":{"name":"boxes"},"transform":[{"filter":"datum.p==='d'"}],"mark":{"type":"bar","size":20,"fill":"#00BFFF","fillOpacity":0.6,"stroke":"#00BFFF","strokeOpacity":0.85,"strokeWidth":3},
       "encoding":{"x":{"field":"c","type":"nominal","scale":{"type":"band","paddingInner":0,"paddingOuter":0}},
        "y":{"field":"q1","type":"quantitative","title":"dθ/dz [K/km]","scale":{"domain":[-2.5,8],"nice":false,"zero":false}},"y2":{"field":"q3"}}},
      {"data":{"name":"boxes"},"transform":[{"filter":"datum.p==='d'"}],"mark":{"type":"tick","color":"#FF0000","size":20,"thickness":4.5},
       "encoding":{"x":{"field":"c","type":"nominal","scale":{"type":"band","paddingInner":0,"paddingOuter":0}},
        "y":{"field":"md","type":"quantitative","title":"dθ/dz [K/km]","scale":{"domain":[-2.5,8],"nice":false,"zero":false}}}},
      {"data":{"name":"outliers"},"transform":[{"filter":"datum.p==='d'"}],"mark":{"type":"point","filled":true,"color":"#000000","opacity":0.85,"size":230},
       "encoding":{"x":{"field":"c","type":"nominal","scale":{"type":"band","paddingInner":0,"paddingOuter":0}},
        "y":{"field":"v","type":"quantitative","title":"dθ/dz [K/km]","scale":{"domain":[-2.5,8],"nice":false,"zero":false}}}}
     ]}
   ]}
 ]}
],
"config":{"view":{"fill":"#E5E5E5","stroke":null},"font":"DejaVu Sans","axis":{"titleFontWeight":"normal","labelFont":"DejaVu Sans","titleFont":"DejaVu Sans"},"title":{"fontWeight":"normal"}}
}
